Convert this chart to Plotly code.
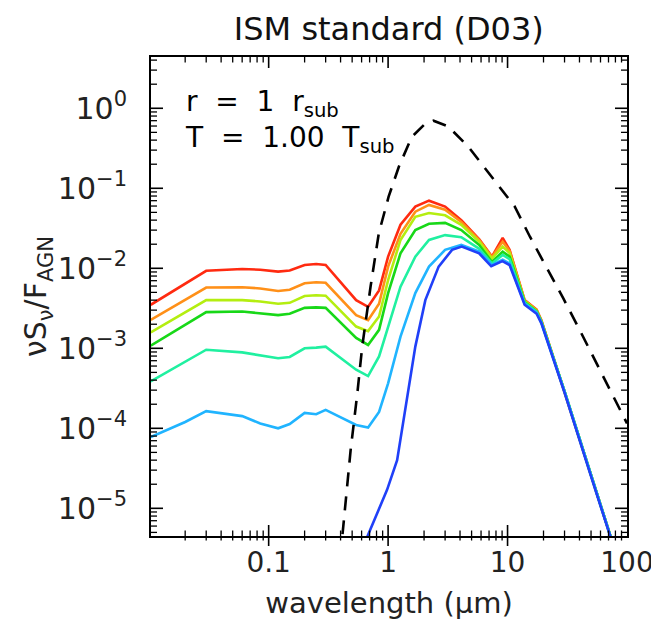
import numpy as np
import plotly.graph_objects as go

# ---------------- data ----------------
wavelength = [0.0103, 0.02, 0.03, 0.06, 0.085, 0.12, 0.15, 0.2, 0.25, 0.3,
              0.54, 0.68, 0.84, 1.0, 1.27, 1.69, 2.2, 3.0, 4.1, 5.8,
              7.4, 9.1, 10.4, 13.9, 17.5, 19.2, 30, 50, 72, 100]

tail = [2.9e-4, 2.6e-5, 4.7e-6, 1.0e-6]

sed_red = [3.5e-3, 6.4e-3, 9.3e-3, 9.8e-3, 9.6e-3, 9.1e-3, 9.4e-3, 1.1e-2, 1.13e-2, 1.1e-2,
           4.0e-3, 3.3e-3, 5.3e-3, 1.4e-2, 3.5e-2, 5.9e-2, 7.0e-2, 5.9e-2, 4.0e-2, 2.3e-2,
           1.4e-2, 2.4e-2, 1.7e-2, 4.0e-3, 3.05e-3, 2.25e-3] + tail
sed_orange = [2.27e-3, 4.0e-3, 5.75e-3, 5.8e-3, 5.6e-3, 5.2e-3, 5.4e-3, 6.5e-3, 6.7e-3, 6.6e-3,
              2.6e-3, 2.25e-3, 3.6e-3, 1.05e-2, 2.7e-2, 5.1e-2, 6.2e-2, 5.4e-2, 3.8e-2, 2.25e-2,
              1.38e-2, 2.15e-2, 1.65e-2, 3.95e-3, 3.0e-3, 2.2e-3] + tail
sed_yellow = [1.58e-3, 2.85e-3, 4.0e-3, 4.0e-3, 3.85e-3, 3.6e-3, 3.7e-3, 4.5e-3, 4.6e-3, 4.55e-3,
              1.87e-3, 1.64e-3, 2.5e-3, 7.1e-3, 2.26e-2, 4.4e-2, 4.9e-2, 4.6e-2, 3.5e-2, 2.15e-2,
              1.32e-2, 1.87e-2, 1.55e-2, 3.9e-3, 2.95e-3, 2.2e-3] + tail
sed_green = [1.08e-3, 1.95e-3, 2.83e-3, 2.88e-3, 2.75e-3, 2.6e-3, 2.7e-3, 3.2e-3, 3.25e-3, 3.2e-3,
             1.35e-3, 1.1e-3, 1.7e-3, 4.9e-3, 1.54e-2, 3.0e-2, 3.6e-2, 3.7e-2, 3.0e-2, 1.95e-2,
             1.2e-2, 1.61e-2, 1.4e-2, 3.8e-3, 2.9e-3, 2.15e-3] + tail
sed_spring = [3.85e-4, 6.8e-4, 9.6e-4, 8.9e-4, 8.1e-4, 7.5e-4, 7.8e-4, 1.0e-3, 1.02e-3, 1.05e-3,
              5.4e-4, 4.5e-4, 7.9e-4, 1.87e-3, 5.9e-3, 1.4e-2, 2.26e-2, 2.6e-2, 2.45e-2, 1.75e-2,
              1.15e-2, 1.47e-2, 1.3e-2, 3.7e-3, 2.85e-3, 2.1e-3] + tail
sed_lightblue = [7.8e-5, 1.2e-4, 1.64e-4, 1.42e-4, 1.15e-4, 1.0e-4, 1.13e-4, 1.56e-4, 1.5e-4, 1.7e-4,
                 1.1e-4, 1.02e-4, 1.6e-4, 3.65e-4, 1.4e-3, 4.9e-3, 1.05e-2, 1.7e-2, 1.96e-2, 1.62e-2,
                 1.1e-2, 1.28e-2, 1.15e-2, 3.6e-3, 2.8e-3, 2.1e-3] + tail

wavelength_blue = [0.6, 0.69, 0.98, 1.19, 1.44, 1.69, 2.05, 2.65, 3.43, 4.14, 5.78,
                   7.3, 9.06, 10.4, 13.9, 17.5, 19.2, 30, 50, 72, 100]
sed_blue = [3.0e-6, 4.9e-6, 1.7e-5, 4.0e-5, 2.26e-4, 1.05e-3, 4.0e-3, 1.05e-2, 1.7e-2, 1.87e-2, 1.54e-2,
            1.06e-2, 1.23e-2, 1.1e-2, 3.5e-3, 2.7e-3, 2.05e-3, 2.8e-4, 2.5e-5, 4.6e-6, 1.0e-6]

wavelength_bb = [0.38, 0.414, 0.486, 0.552, 0.607, 0.713, 0.836, 1.01, 1.23, 1.58, 2.0, 2.4,
                 3.2, 4.7, 7.3, 11.5, 15.4, 21.1, 29.3, 40.1, 55.3, 76, 100]
sed_bb = [1.2e-6, 4.9e-6, 5.4e-5, 2.7e-4, 1.05e-3, 5.9e-3, 2.74e-2, 7.85e-2, 0.186, 0.44, 0.62, 0.70,
          0.59, 0.33, 0.14, 0.059, 0.0248, 0.0105, 4.2e-3, 1.7e-3, 6.5e-4, 2.6e-4, 1.15e-4]

series = [
    ("red", sed_red, wavelength),
    ("orange", sed_orange, wavelength),
    ("yellowgreen", sed_yellow, wavelength),
    ("green", sed_green, wavelength),
    ("springgreen", sed_spring, wavelength),
    ("lightblue", sed_lightblue, wavelength),
    ("blue", sed_blue, wavelength_blue),
]
colors = {
    "red": "#ff2a10",
    "orange": "#ff9018",
    "yellowgreen": "#b4ee10",
    "green": "#18d818",
    "springgreen": "#20f0a0",
    "lightblue": "#20b4ff",
    "blue": "#2040f8",
}

x_tickvals = [0.1, 1, 10, 100]
x_ticktext = ["0.1", "1", "10", "100"]
y_tickvals = [1e0, 1e-1, 1e-2, 1e-3, 1e-4, 1e-5]
y_ticktext = ["10<sup>0</sup>", "10<sup>\u22121</sup>", "10<sup>\u22122</sup>",
              "10<sup>\u22123</sup>", "10<sup>\u22124</sup>", "10<sup>\u22125</sup>"]

FONT = "DejaVu Sans"
X_RANGE = [-1.985, 2.0]
Y_RANGE = [-5.346, 0.641]

fig = go.Figure()
for name, vals, lam in series:
    fig.add_trace(go.Scatter(x=lam, y=vals, mode="lines", name=name,
                             line=dict(color=colors[name], width=2.6),
                             showlegend=False))
fig.add_trace(go.Scatter(x=wavelength_bb, y=sed_bb, mode="lines", name="blackbody",
                         line=dict(color="black", width=2.6, dash="14px,10px"),
                         showlegend=False))

# ---------- tick marks (major + minor, on all four sides) ----------
def in_range(v, rng):
    lv = np.log10(v)
    return rng[0] < lv < rng[1]

x_major = [v for v in x_tickvals if in_range(v, X_RANGE) and v < 10 ** X_RANGE[1] * 0.99]
x_minor = [k * 10.0 ** n for n in range(-2, 2) for k in range(2, 10)]
x_minor = [v for v in x_minor if in_range(v, X_RANGE)]
y_major = [v for v in y_tickvals if in_range(v, Y_RANGE)]
y_minor = [k * 10.0 ** n for n in range(-6, 1) for k in range(2, 10)]
y_minor = [v for v in y_minor if in_range(v, Y_RANGE)]

PLOT_W, PLOT_H = 476.0, 479.0
shapes = []
for vals, big in ((x_major, True), (x_minor, False)):
    out_len = 10 if big else 4.5
    in_len = 11 if big else 5.5
    lw = 1.6 if big else 1.3
    for v in vals:
        shapes.append(dict(type="line", xref="x", yref="paper", x0=v, x1=v,
                           y0=-out_len / PLOT_H, y1=in_len / PLOT_H,
                           line=dict(color="black", width=lw)))
        shapes.append(dict(type="line", xref="x", yref="paper", x0=v, x1=v,
                           y0=1, y1=1 - in_len / PLOT_H,
                           line=dict(color="black", width=lw)))
for vals, big in ((y_major, True), (y_minor, False)):
    in_len = 12 if big else 6
    lw = 1.6 if big else 1.3
    for v in vals:
        shapes.append(dict(type="line", xref="paper", yref="y", y0=v, y1=v,
                           x0=0, x1=in_len / PLOT_W,
                           line=dict(color="black", width=lw)))
        shapes.append(dict(type="line", xref="paper", yref="y", y0=v, y1=v,
                           x0=1, x1=1 - in_len / PLOT_W,
                           line=dict(color="black", width=lw)))

fig.update_xaxes(
    type="log", range=X_RANGE, automargin=False,
    showgrid=False, zeroline=False, showline=True, linecolor="black", linewidth=2,
    mirror=True, ticks="",
    tickmode="array", tickvals=x_tickvals, ticktext=x_ticktext,
    tickfont=dict(family=FONT, size=28, color="#222222"),
    title=dict(text="wavelength (\u03bcm)", font=dict(family=FONT, size=29, color="#222222"),
               standoff=15),
)
fig.update_yaxes(
    type="log", range=Y_RANGE, automargin=False,
    showgrid=False, zeroline=False, showline=True, linecolor="black", linewidth=2,
    mirror=True, ticks="",
    tickmode="array", tickvals=y_tickvals, ticktext=y_ticktext,
    tickfont=dict(family=FONT, size=30, color="#222222"),
    ticklabelstandoff=16,
    title=dict(text="\u03bdS<sub>\u03bd</sub>/F<sub>AGN</sub>",
               font=dict(family=FONT, size=30, color="#222222"), standoff=2),
)

fig.add_annotation(xref="paper", yref="paper", x=0.068, y=0.865, xanchor="left", yanchor="middle",
                   align="left",
                   text="r  =  1  r<sub>sub</sub><br>T  =  1.00  T<sub>sub</sub>", showarrow=False,
                   font=dict(family=FONT, size=28, color="black"))

fig.update_layout(
    template="none",
    width=651, height=626,
    margin=dict(l=143, r=32, t=49, b=98),
    paper_bgcolor="white", plot_bgcolor="white",
    shapes=shapes,
    title=dict(text="ISM standard (D03)", x=0.585, xanchor="center", y=0.966, yanchor="middle",
               font=dict(family=FONT, size=32, color="#111111")),
)

fig.write_html("out.html")
